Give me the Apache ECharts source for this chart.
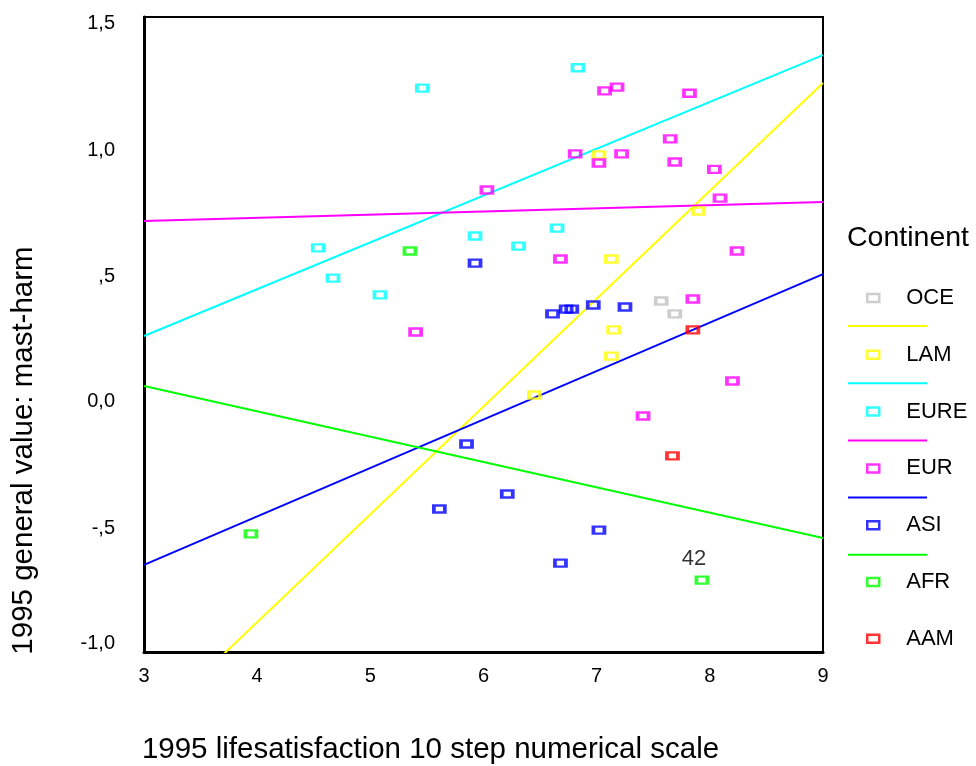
<!DOCTYPE html>
<html>
<head>
<meta charset="utf-8">
<script src="https://cdn.jsdelivr.net/npm/echarts@6/dist/echarts.min.js"></script>
<style>html,body{margin:0;padding:0;background:#fff;}#chart{width:976px;height:766px;}</style>
</head>
<body>
<div id="chart"></div>
<script>
// ---- data ----
const continents = ['OCE', 'LAM', 'EURE', 'EUR', 'ASI', 'AFR', 'AAM'];
const colors = ['#c0c0c0', '#ffff00', '#00ffff', '#ff00ff', '#0000ff', '#00ff00', '#ff0000'];

const oceX = [7.57, 7.69];
const oceY = [0.382, 0.331];
const lamX = [7.02, 7.90, 7.13, 7.15, 7.13, 6.45];
const lamY = [0.957, 0.736, 0.547, 0.268, 0.165, 0.012];
const eureX = [5.46, 6.835, 4.54, 4.67, 5.085, 5.925, 6.31, 6.65];
const eureY = [1.22, 1.30, 0.591, 0.472, 0.406, 0.638, 0.598, 0.669];
const eurX = [6.03, 5.40, 6.68, 7.07, 7.18, 7.82, 7.65, 6.81, 7.02, 7.22, 7.69, 8.04, 8.09, 8.24, 7.85, 8.20, 7.41];
const eurY = [0.819, 0.26, 0.547, 1.209, 1.224, 1.20, 1.02, 0.961, 0.925, 0.961, 0.929, 0.90, 0.787, 0.579, 0.39, 0.067, -0.071];
const asiX = [5.925, 6.61, 6.73, 6.78, 6.97, 7.25, 5.85, 6.21, 5.61, 7.02, 6.68];
const asiY = [0.531, 0.331, 0.35, 0.35, 0.366, 0.358, -0.181, -0.378, -0.437, -0.52, -0.65];
const afrX = [5.35, 3.945, 7.93];
const afrY = [0.579, -0.535, -0.717];
const aamX = [7.85, 7.67];
const aamY = [0.268, -0.228];

// fit lines: value at x = 3 and at x = 9
const fitX = [3, 9];
const fitContinents = ['LAM', 'EURE', 'EUR', 'ASI', 'AFR'];
const fitLAM = [-1.307, 1.24];
const fitEURE = [0.244, 1.35];
const fitEUR = [0.697, 0.772];
const fitASI = [-0.657, 0.488];
const fitAFR = [0.047, -0.551];

const pointLabelText = '42';   // case label on the AFR point
const pointLabelIndex = 2;

const yTickValues = [1.5, 1, 0.5, 0, -0.5, -1];
const yTickLabels = ['1,5', '1,0', ',5', '0,0', '-,5', '-1,0'];

// ---- build ----
const FONT = 'Arial, "Liberation Sans", sans-serif';
const pts = [[oceX, oceY], [lamX, lamY], [eureX, eureY], [eurX, eurY], [asiX, asiY], [afrX, afrY], [aamX, aamY]];
const fits = [fitLAM, fitEURE, fitEUR, fitASI, fitAFR];
// small vertical nudges of the y tick labels (px), as placed in the original
const yLabelShift = [6, 6, 5, 3, 3, -9];

const series = [];
fitContinents.forEach((c, i) => {
  const col = colors[continents.indexOf(c)];
  series.push({
    name: c + ' fit', type: 'line', z: 1, silent: true, symbol: 'none', clip: true,
    color: col, lineStyle: {color: col, width: 2},
    data: fitX.map((x, k) => [x, fits[i][k]])
  });
});
continents.forEach((c, i) => {
  const [xs, ys] = pts[i];
  series.push({
    name: c, type: 'scatter', z: 3, symbol: 'rect', symbolSize: [11, 7],
    itemStyle: {color: 'rgba(255,255,255,0)', borderColor: colors[i], borderWidth: 3},
    data: xs.map((x, k) => {
      const d = {value: [x, ys[k]]};
      if (c === 'AFR' && k === pointLabelIndex) {
        d.label = {show: true, formatter: pointLabelText, position: 'top', offset: [-8, 0],
                   color: '#000', fontSize: 22, fontFamily: FONT};
      }
      return d;
    })
  });
});

const rich = {};
yTickLabels.forEach((t, i) => {
  const s = yLabelShift[i];
  rich['t' + i] = {fontSize: 20, fontFamily: FONT, color: '#000',
    padding: s >= 0 ? [2 * s, 0, 0, 0] : [0, 0, -2 * s, 0]};
});

const chart = echarts.init(document.getElementById('chart'), null, {renderer: 'canvas'});
chart.setOption({
  animation: false,
  backgroundColor: '#fff',
  title: {text: 'Continent', left: 842, top: 219,
          textStyle: {fontSize: 28.5, fontWeight: 'normal', color: '#000', fontFamily: FONT}},
  grid: {left: 144, right: 153, top: 17, bottom: 114, show: true, borderColor: '#000', borderWidth: 2,
         outerBoundsMode: 'none', containLabel: false},
  xAxis: {
    type: 'value', min: 3, max: 9, interval: 1,
    axisLine: {onZero: false, lineStyle: {color: '#000', width: 3}},
    axisTick: {show: false}, splitLine: {show: false},
    axisLabel: {color: '#000', fontSize: 20, fontFamily: FONT, margin: 14},
    name: '1995 lifesatisfaction 10 step numerical scale', nameLocation: 'middle', nameGap: 83,
    nameTextStyle: {color: '#000', fontSize: 29.5, fontFamily: FONT, padding: [0, 106, 0, 0]}
  },
  yAxis: {
    type: 'value', min: -1, max: 1.5, interval: 0.5,
    axisLine: {onZero: false, lineStyle: {color: '#000', width: 3}},
    axisTick: {show: false}, splitLine: {show: false},
    axisLabel: {color: '#000', fontSize: 20, fontFamily: FONT, margin: 29, rich: rich,
                formatter: v => {
                  const i = yTickValues.findIndex(t => Math.abs(t - v) < 1e-9);
                  return i >= 0 ? '{t' + i + '|' + yTickLabels[i] + '}' : String(v);
                }},
    name: '1995 general value: mast-harm', nameLocation: 'middle', nameGap: 105, nameRotate: 90,
    nameTextStyle: {color: '#000', fontSize: 29.5, fontFamily: FONT, padding: [0, 232, 0, 0]}
  },
  legend: [
    {
      orient: 'vertical', left: 861, top: 282, itemWidth: 12, itemHeight: 8, itemGap: 34.8,
      icon: 'rect', selectedMode: false,
      textStyle: {fontSize: 22, lineHeight: 22, color: '#000', fontFamily: FONT, padding: [0, 0, 0, 22]},
      data: continents.map((c, i) => ({name: c, icon: 'rect',
        itemStyle: {color: '#fff', borderColor: colors[i], borderWidth: 2.5}}))
    },
    {
      orient: 'vertical', left: 843, top: 320, itemWidth: 79, itemHeight: 2, itemGap: 55.2,
      icon: 'rect', selectedMode: false, formatter: () => '',
      textStyle: {fontSize: 1, lineHeight: 1},
      data: fitContinents.map(c => ({name: c + ' fit'}))
    }
  ],
  series: series
});
</script>
</body>
</html>
